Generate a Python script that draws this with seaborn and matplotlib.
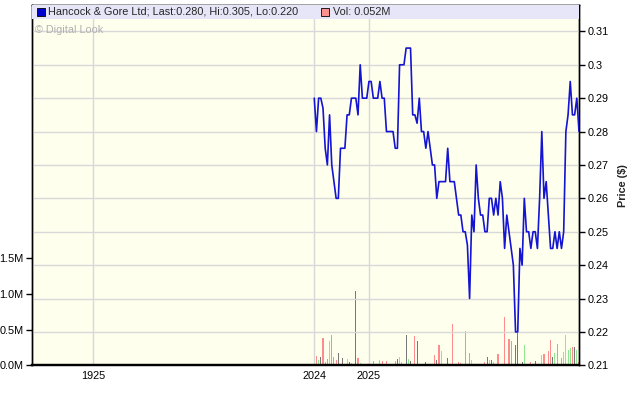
import matplotlib
matplotlib.use("Agg")
import numpy as np
import pandas as pd
import matplotlib.pyplot as plt
from matplotlib.patches import Rectangle
from matplotlib.ticker import FuncFormatter
import seaborn as sns

# Closing price per session, oldest first
price = [
    0.29, 0.28, 0.29, 0.29, 0.287, 0.275, 0.27, 0.285, 0.27, 0.265,
    0.26, 0.26, 0.275, 0.275, 0.275, 0.285, 0.285, 0.29, 0.29, 0.29,
    0.285, 0.30, 0.29, 0.29, 0.29, 0.295, 0.295, 0.29, 0.29, 0.29,
    0.295, 0.29, 0.29, 0.28, 0.28, 0.28, 0.28, 0.275, 0.275,
    0.30, 0.30, 0.30, 0.305, 0.305, 0.305, 0.285, 0.285, 0.2825, 0.29,
    0.28, 0.28, 0.275, 0.28, 0.275, 0.27, 0.27, 0.26, 0.265, 0.265,
    0.265, 0.265, 0.275, 0.265, 0.265, 0.265,
    0.26, 0.255, 0.255, 0.25, 0.25, 0.246, 0.23, 0.255, 0.25, 0.27,
    0.26, 0.255, 0.255, 0.25, 0.25, 0.26, 0.26, 0.255, 0.26, 0.255,
    0.265, 0.26, 0.245, 0.255, 0.25, 0.245, 0.24,
    0.22, 0.22, 0.245, 0.24, 0.26, 0.25, 0.25, 0.245, 0.25, 0.25,
    0.245, 0.26, 0.28, 0.26, 0.265, 0.255, 0.245, 0.245, 0.25, 0.245,
    0.25, 0.245, 0.25, 0.28, 0.285, 0.295, 0.285, 0.285, 0.29, 0.28,
]

# Volume per session, millions of shares
volume = [
    0, 0.127, 0.07, 0.11, 0.39, 0.04, 0.085, 0.34, 0.42, 0.11,
    0.07, 0.17, 0, 0.10, 0, 0.085, 0.04, 0.03, 0, 1.04,
    0.10, 0.03, 0, 0.015, 0, 0, 0, 0.055, 0, 0,
    0.07, 0.055, 0.015, 0.055, 0, 0.015, 0, 0.055, 0.085, 0.11,
    0.04, 0.015, 0.42, 0.085, 0.055, 0, 0.41, 0.34, 0, 0.015,
    0.015, 0.04, 0.015, 0.025, 0.015, 0.14, 0.07, 0.28, 0.20, 0,
    0.015, 0.10, 0.015, 0.58, 0, 0, 0.04, 0.03, 0, 0.48,
    0.015, 0.17, 0.07, 0, 0.015, 0.025, 0.015, 0, 0.04, 0.11,
    0.07, 0.07, 0.04, 0.015, 0.155, 0.025, 0.015, 0.68, 0.015, 0.37,
    0.34, 0.025, 0.28, 0.46, 0.025, 0.04, 0.28, 0.015, 0, 0.04,
    0.015, 0.055, 0.025, 0, 0.14, 0.155, 0.025, 0.20, 0.35, 0.11,
    0.17, 0.30, 0, 0.10, 0.18, 0.42, 0.21, 0.24, 0.25, 0.25,
    0.21, 0.052,
]

# Session direction: u = up, d = down, f = flat
direction = ("fdufdddudd" "dffffufuff" "dufffffdff" "udfdfffdfu"
             "uffuffdffu" "ufduddfduf" "ffudffddfd" "fdufduufdf"
             "ufuddufdfd" "duffufudfd" "dfufududdf" "udfduuuudf" "ud")

# x-axis labels and the session they sit on
year_labels = ["1925", "2024", "2025"]
year_pos = [-101, 0, 25]

price_ticks = [0.21, 0.22, 0.23, 0.24, 0.25, 0.26, 0.27, 0.28, 0.29, 0.30, 0.31]
vol_ticks = [0, 0.5, 1.0, 1.5]

df = pd.DataFrame({"session": np.arange(len(price)), "price": price,
                   "volume": volume, "dir": list(direction)})

sns.set_theme(style="white")
plt.rcParams["font.family"] = ["Liberation Sans", "DejaVu Sans"]
fs = 7.8

fig = plt.figure(figsize=(6.4, 4.01), dpi=100)
ax = fig.add_axes([32 / 640, 35.7 / 401, 547 / 640, 360.3 / 401])
ax.set_facecolor("#ffffee")
ax2 = ax.twinx()
ax2.patch.set_visible(False)

# volume bars
bar_colors = {"u": "#8fe88f", "d": "#ff8c8c", "f": "#787878"}
ax.bar(df["session"], df["volume"], width=0.5, linewidth=0,
       color=[bar_colors[c] for c in df["dir"]], zorder=2)

# price line
sns.lineplot(data=df, x="session", y="price", ax=ax2, color="#1414d2",
             linewidth=1.2, zorder=3)

ax.set_xlim(-129, 121)
ax.set_ylim(0, 5.06)
ax2.set_ylim(0.21, 0.3179)

ax.set_xticks(year_pos)
ax.set_xticklabels(year_labels)
ax.set_yticks(vol_ticks)
ax.yaxis.set_major_formatter(FuncFormatter(lambda v, p: f"{v:.1f}M"))
ax2.set_yticks(price_ticks)
ax2.yaxis.set_major_formatter(FuncFormatter(lambda v, p: f"{v:g}"))

ax.grid(True, axis="x", color="#d8d8d8", linewidth=1)
ax.grid(False, axis="y")
ax2.grid(True, axis="y", color="#d8d8d8", linewidth=1)
ax2.grid(False, axis="x")
ax.set_axisbelow(True)

ax.tick_params(axis="x", length=0, pad=4, labelsize=fs, colors="black")
ax.tick_params(axis="y", direction="out", length=4, width=1, pad=2,
               labelsize=fs, colors="black", left=True)
ax2.tick_params(axis="y", direction="out", length=4, width=1, pad=2,
                labelsize=fs, colors="black", right=True)

for a in (ax, ax2):
    for s in a.spines.values():
        s.set_color("black")
        s.set_linewidth(1)
    a.spines["bottom"].set_linewidth(1.6)
    a.set_xlabel("")
    a.set_ylabel("")

ax2.set_ylabel("Price ($)", fontsize=fs, fontweight="bold", labelpad=7)

# legend band across the top
band_h = 14 / 360.3
ax2.add_patch(Rectangle((0, 1 - band_h), 1, band_h, transform=ax2.transAxes,
                        facecolor="#e6e6f8", edgecolor="none", zorder=5,
                        clip_on=False))
yb = 1 - band_h / 2
ax2.plot([8.5 / 547], [yb], marker="s", ms=5.5, mfc="#0000cc", mec="black",
         mew=0.6, transform=ax2.transAxes, clip_on=False, zorder=6)
ax2.text(16 / 547, yb, "Hancock & Gore Ltd; Last:0.280, Hi:0.305, Lo:0.220",
         transform=ax2.transAxes, va="center", ha="left", fontsize=fs,
         zorder=6)
ax2.plot([293 / 547], [yb], marker="s", ms=5.5, mfc="#ff9090", mec="black",
         mew=0.6, transform=ax2.transAxes, clip_on=False, zorder=6)
ax2.text(301 / 547, yb, "Vol: 0.052M", transform=ax2.transAxes,
         va="center", ha="left", fontsize=fs, zorder=6)
ax2.text(3 / 547, 1 - 25 / 360.3, "© Digital Look", transform=ax2.transAxes,
         va="center", ha="left", fontsize=fs, color="#b0b0b0", zorder=6)

fig.savefig("out.png", dpi=100, facecolor="white")
